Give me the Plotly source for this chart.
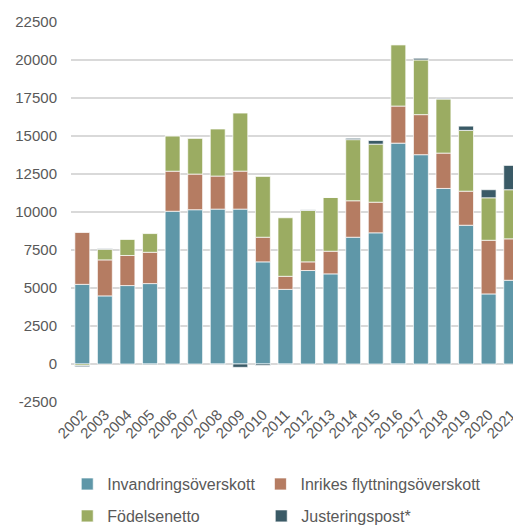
import plotly.graph_objects as go

years = [str(y) for y in range(2002, 2022)]
invandring = [5240, 4480, 5160, 5290, 10050, 10150, 10190, 10190, 6720, 4910,
              6150, 5930, 8340, 8630, 14530, 13770, 11550, 9130, 4610, 5510]
inrikes = [3410, 2370, 1980, 2060, 2635, 2345, 2175, 2500, 1620, 860,
           570, 1490, 2400, 2015, 2440, 2635, 2325, 2240, 3530, 2725]
fodelse = [-100, 700, 1075, 1230, 2330, 2370, 3095, 3820, 4000, 3850,
           3380, 3540, 4020, 3820, 4020, 3600, 3555, 4000, 2795, 3230]
justering = [-80, 40, 0, -50, 0, 0, -40, -220, -100, -40,
             40, 0, 90, 240, -40, 110, 50, 280, 530, 1600]
yticks = [-2500, 0, 2500, 5000, 7500, 10000, 12500, 15000, 17500, 20000, 22500]

names = ["Invandringsöverskott", "Inrikes flyttningsöverskott", "Födelsenetto", "Justeringspost*"]
colors = ["#5f97a8", "#b57c62", "#9bac62", "#3a5a66"]
series = [invandring, inrikes, fodelse, justering]
legends = ["legend", "legend", "legend2", "legend2"]

fig = go.Figure()
for n, c, s, lg in zip(names, colors, series, legends):
    fig.add_trace(go.Bar(
        x=years, y=s, name=n, legend=lg,
        marker=dict(color=c, line=dict(color="rgba(255,255,255,0.7)", width=1)),
    ))

font = "Liberation Sans, Arial, sans-serif"
fig.update_layout(
    width=513, height=525,
    barmode="relative", bargap=0.34,
    plot_bgcolor="white", paper_bgcolor="white",
    margin=dict(l=71, r=0, t=22, b=123, autoexpand=False),
    font=dict(family=font, size=15, color="#595959"),
    legend=dict(orientation="h", x=-0.0085, xanchor="left", y=-0.216, yanchor="middle",
                font=dict(size=16, color="#595959"), traceorder="normal"),
    legend2=dict(orientation="h", x=-0.0085, xanchor="left", y=-0.300, yanchor="middle",
                 font=dict(size=16, color="#595959"), entrywidth=149, traceorder="normal"),
    xaxis=dict(type="category", range=[-0.5, 19.08], tickangle=-45,
               showgrid=False, showline=False, ticks="", automargin=False,
               tickfont=dict(size=15, color="#595959")),
    yaxis=dict(range=[-2500, 22500], tickvals=yticks, ticktext=[str(v) for v in yticks],
               showgrid=True, gridcolor="#d9d9d9", gridwidth=1.5,
               zeroline=True, zerolinecolor="#d9d9d9", zerolinewidth=1.5,
               showline=False, ticks="", ticklabelstandoff=13, automargin=False,
               tickfont=dict(size=15, color="#595959")),
)
fig.write_html(
    "out.html",
    config={"displayModeBar": False},
    post_script="document.body.style.margin='0';document.body.style.overflow='hidden';",
)
